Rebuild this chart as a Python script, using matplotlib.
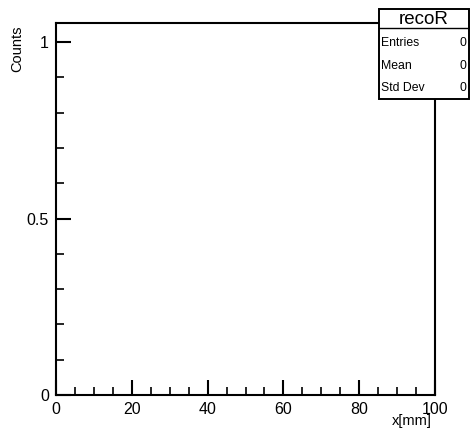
import numpy as np
import matplotlib
matplotlib.use("Agg")
import matplotlib.pyplot as plt
from matplotlib.patches import Rectangle
from matplotlib.ticker import MultipleLocator

# empty histogram "recoR"
hist_name = "recoR"
bin_edges = np.linspace(0, 100, 101)
counts = np.zeros(100)
stat_labels = ["Entries", "Mean", "Std Dev"]
stat_values = ["0", "0", "0"]

plt.rcParams['font.family'] = ['Liberation Sans', 'DejaVu Sans']

fig = plt.figure(figsize=(4.7, 4.3), dpi=100)
ax = fig.add_axes([56 / 470, 1 - 395 / 430, (435 - 56) / 470, (395 - 23) / 430])

ax.stairs(counts, bin_edges, color="black", linewidth=0.8)
ax.set_xlim(0, 100)
ax.set_ylim(0, 1.054)

for s in ax.spines.values():
    s.set_linewidth(1.5)

ax.xaxis.set_major_locator(MultipleLocator(20))
ax.xaxis.set_minor_locator(MultipleLocator(5))
ax.yaxis.set_major_locator(MultipleLocator(0.5))
ax.yaxis.set_minor_locator(MultipleLocator(0.1))
ax.yaxis.set_major_formatter(plt.FuncFormatter(lambda v, p: "%g" % v))
ax.tick_params(which="major", direction="in", length=11, width=1.5, labelsize=11.5, pad=5)
ax.tick_params(which="minor", direction="in", length=5.5, width=1.2)
ax.tick_params(axis="x", which="both", top=False)
ax.tick_params(axis="y", which="both", right=False)

# axis titles placed in pixels like the reference
fig.text(432 / 470, 1 - 421 / 430, "x[mm]", ha="right", va="center", fontsize=10.5)
fig.text(17 / 470, 1 - 25 / 430, "Counts", ha="center", va="top", rotation=90, fontsize=10.5)

# title, mostly off the top edge
fig.text(0.535, 1 - 3.5 / 430, hist_name, ha="center", va="bottom", fontsize=12,
         color="#555555")

# stats box
bx0, by0, bx1, by1 = 379 / 470, 1 - 99 / 430, 469 / 470, 1 - 9 / 430
hdr = 1 - 28 / 430
fig.patches.append(Rectangle((bx0, by0), bx1 - bx0, by1 - by0, transform=fig.transFigure,
                             facecolor="white", edgecolor="black", linewidth=1.4, zorder=5))
fig.add_artist(plt.Line2D([bx0, bx1], [hdr, hdr], transform=fig.transFigure,
                          color="black", linewidth=1.0, zorder=6))
fig.text((bx0 + bx1) / 2, 1 - 19 / 430, hist_name, ha="center", va="center",
         fontsize=13.5, zorder=7)
row_y = [43, 66, 88]
for lab, val, y in zip(stat_labels, stat_values, row_y):
    fig.text(381 / 470, 1 - y / 430, lab, ha="left", va="center", fontsize=8.8, zorder=7)
    fig.text(466 / 470, 1 - y / 430, val, ha="right", va="center", fontsize=8.8, zorder=7)

fig.savefig("out.png", dpi=100)
